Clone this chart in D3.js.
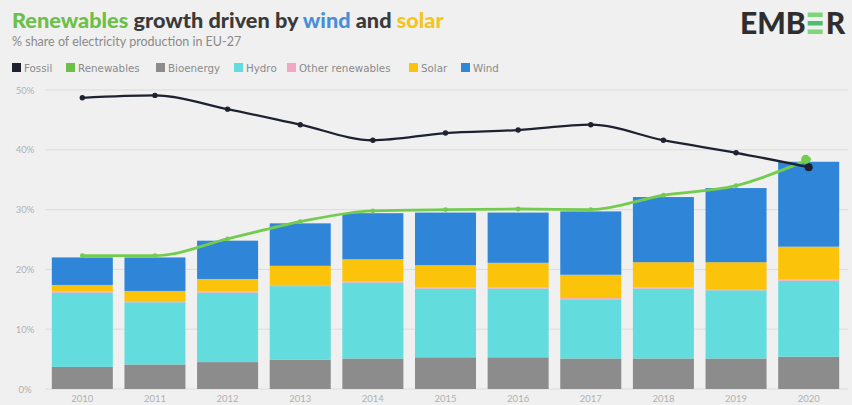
<!DOCTYPE html>
<html>
<head>
<meta charset="utf-8">
<script src="https://cdn.jsdelivr.net/npm/d3@7.9.0/dist/d3.min.js"></script>
<style>
  body { margin: 0; background: #f0f0f0; }
  svg { display: block; font-family: Lato, "Open Sans", sans-serif; }
</style>
</head>
<body>
<svg width="852" height="405"></svg>
<script>
// data
const years = ['2010', '2011', '2012', '2013', '2014', '2015', '2016', '2017', '2018', '2019', '2020'];
const bioenergy = [3.7, 4.1, 4.5, 4.9, 5.1, 5.3, 5.3, 5.1, 5.1, 5.1, 5.4];
const hydro = [12.4, 10.4, 11.6, 12.3, 12.7, 11.5, 11.5, 9.9, 11.7, 11.4, 12.7];
const otherRenewables = [0.2, 0.2, 0.2, 0.2, 0.2, 0.2, 0.2, 0.2, 0.2, 0.2, 0.2];
const solar = [1.1, 1.7, 2.1, 3.2, 3.7, 3.7, 4.1, 3.9, 4.2, 4.5, 5.5];
const wind = [4.6, 5.6, 6.4, 7.1, 7.7, 8.8, 8.4, 10.6, 10.9, 12.4, 14.2];
const renewables = [22.3, 22.3, 25.1, 28.0, 29.8, 30.0, 30.1, 30.0, 32.4, 34.0, 38.4];
const fossil = [48.7, 49.1, 46.8, 44.2, 41.6, 42.8, 43.3, 44.2, 41.6, 39.5, 37.1];
const yTicks = [0, 10, 20, 30, 40, 50];

const legendItems = [
  { label: 'Fossil', color: '#1e2230', x: 12 },
  { label: 'Renewables', color: '#6cc04a', x: 66 },
  { label: 'Bioenergy', color: '#8c8c8c', x: 156 },
  { label: 'Hydro', color: '#62dcdc', x: 234 },
  { label: 'Other renewables', color: '#f2a7c3', x: 287 },
  { label: 'Solar', color: '#fcc30b', x: 409 },
  { label: 'Wind', color: '#2f86d8', x: 461 }
];

const keys = ['bioenergy', 'hydro', 'other', 'solar', 'wind'];
const colors = {
  bioenergy: '#8c8c8c', hydro: '#62dcdc', other: '#f2a7c3',
  solar: '#fcc30b', wind: '#2f86d8'
};

let rows = years.map((y, i) => ({
  year: y,
  bioenergy: bioenergy[i],
  hydro: hydro[i],
  other: otherRenewables[i],
  solar: solar[i],
  wind: wind[i]
}));

const svg = d3.select('svg');

let x = d3.scaleBand().domain(years).range([46, 845]).paddingInner(0.16).paddingOuter(0.08);
let y = d3.scaleLinear().domain([0, 50]).range([389, 90]);

// grid
svg.append('g')
  .selectAll('line')
  .data(yTicks)
  .join('line')
  .attr('x1', 45).attr('x2', 848)
  .attr('y1', d => y(d)).attr('y2', d => y(d))
  .attr('stroke', '#dcdcdc').attr('stroke-width', 1);

svg.append('g')
  .selectAll('text')
  .data(yTicks)
  .join('text')
  .attr('x', 25).attr('y', d => y(d) + 3.5)
  .attr('text-anchor', 'middle')
  .attr('font-size', 9.5).attr('fill', '#b0b0b0')
  .text(d => d + '%');

// stacked bars
let stack = d3.stack().keys(keys)(rows);
svg.append('g')
  .selectAll('g')
  .data(stack)
  .join('g')
  .attr('fill', d => colors[d.key])
  .selectAll('rect')
  .data(d => d)
  .join('rect')
  .attr('x', d => x(d.data.year))
  .attr('width', x.bandwidth())
  .attr('y', d => y(d[1]))
  .attr('height', d => y(d[0]) - y(d[1]));

// x labels
svg.append('g')
  .selectAll('text')
  .data(years)
  .join('text')
  .attr('x', d => x(d) + x.bandwidth() / 2)
  .attr('y', 402)
  .attr('text-anchor', 'middle')
  .attr('font-size', 9.5).attr('fill', '#b0b0b0')
  .text(d => d);

// lines
function drawLine(values, color, width, r) {
  let pts = values.map((v, i) => [x(years[i]) + x.bandwidth() / 2, y(v)]);
  let line = d3.line().curve(d3.curveMonotoneX);
  svg.append('path')
    .attr('d', line(pts))
    .attr('fill', 'none')
    .attr('stroke', color)
    .attr('stroke-width', width);
  svg.append('g')
    .selectAll('circle')
    .data(pts)
    .join('circle')
    .attr('cx', d => d[0]).attr('cy', d => d[1])
    .attr('r', r)
    .attr('fill', color);
}
drawLine(renewables, '#74cc4f', 2.8, 2.4);
drawLine(fossil, '#1e2230', 2.3, 2.7);
// last points are bigger in the picture
svg.append('circle')
  .attr('cx', x('2020') + x.bandwidth() / 2).attr('cy', y(fossil[10]))
  .attr('r', 4).attr('fill', '#1e2230');
svg.append('circle')
  .attr('cx', x('2020') + x.bandwidth() / 2 - 3).attr('cy', y(renewables[10]))
  .attr('r', 4.5).attr('fill', '#74cc4f');

// title
let title = svg.append('text')
  .attr('x', 12).attr('y', 28)
  .attr('font-size', 21.7).attr('font-weight', 900);
title.append('tspan').attr('fill', '#6cc04a').text('Renewables');
title.append('tspan').attr('fill', '#3a3a3a').text(' growth driven by ');
title.append('tspan').attr('fill', '#4a8fd6').text('wind');
title.append('tspan').attr('fill', '#3a3a3a').text(' and ');
title.append('tspan').attr('fill', '#f5c518').text('solar');

svg.append('text')
  .attr('x', 12).attr('y', 46)
  .attr('font-size', 12.5).attr('fill', '#8a8a8a')
  .text('% share of electricity production in EU-27');

// legend
let lg = svg.append('g')
  .selectAll('g')
  .data(legendItems)
  .join('g')
  .attr('transform', d => `translate(${d.x},63)`);
lg.append('rect').attr('width', 9).attr('height', 9).attr('fill', d => d.color);
lg.append('text')
  .attr('x', 12).attr('y', 8.5)
  .attr('font-family', '"DejaVu Sans", sans-serif')
  .attr('font-size', 10.3).attr('fill', '#8a8a8a')
  .text(d => d.label);

// EMBER logo
let logo = svg.append('g').attr('transform', 'translate(740,34)');
let emb = logo.append('text')
  .attr('font-size', 30).attr('font-weight', 900).attr('fill', '#2e2e2e')
  .text('EMB');
let embW = emb.node().getComputedTextLength();
[0, 1, 2].forEach(i => {
  logo.append('rect')
    .attr('x', embW + 2).attr('y', -21.5 + i * 8.5)
    .attr('width', 15).attr('height', 4.5)
    .attr('fill', i === 1 ? '#4bbf6b' : '#7cd67a');
});
logo.append('text')
  .attr('x', embW + 20)
  .attr('font-size', 30).attr('font-weight', 900).attr('fill', '#2e2e2e')
  .text('R');
</script>
</body>
</html>
